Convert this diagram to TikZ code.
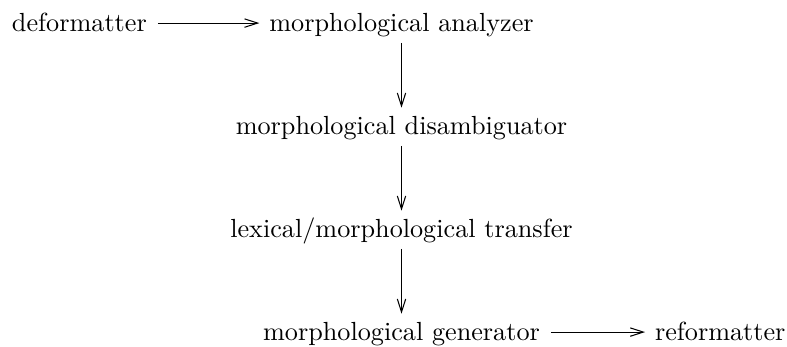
\documentclass[tikz,border=0pt]{standalone}
\usetikzlibrary{arrows.meta}
\begin{document}
\begin{tikzpicture}[x=0.3817pt,y=-0.3817pt,
  lbl/.style={inner sep=0pt,outer sep=0pt,text height=8.5pt,text depth=1.7pt},
  harr/.style={-{Straight Barb[length=5pt,width=3.2pt]},line width=0.4pt,shorten <=4.2pt,shorten >=3.8pt},
  varr/.style={-{Straight Barb[length=5pt,width=3.2pt]},line width=0.4pt,shorten <=2.5pt,shorten >=1.9pt}]
\useasboundingbox (0,0) rectangle (787,347);
\node[lbl,anchor=base west] (def) at (12,32) {deformatter};
\node[lbl,anchor=base] (ana) at (401.5,32) {morphological analyzer};
\node[lbl,anchor=base] (dis) at (401.5,135) {morphological disambiguator};
\node[lbl,anchor=base] (tra) at (401.5,238) {lexical/morphological transfer};
\node[lbl,anchor=base] (gen) at (401.5,341) {morphological generator};
\node[lbl,anchor=base west] (ref) at (655,341) {reformatter};
\draw[harr] (def.east) -- (ana.west);
\draw[varr] (ana.south) -- (dis.north);
\draw[varr] (dis.south) -- (tra.north);
\draw[varr] (tra.south) -- (gen.north);
\draw[harr] (gen.east) -- (ref.west);
\end{tikzpicture}
\end{document}
